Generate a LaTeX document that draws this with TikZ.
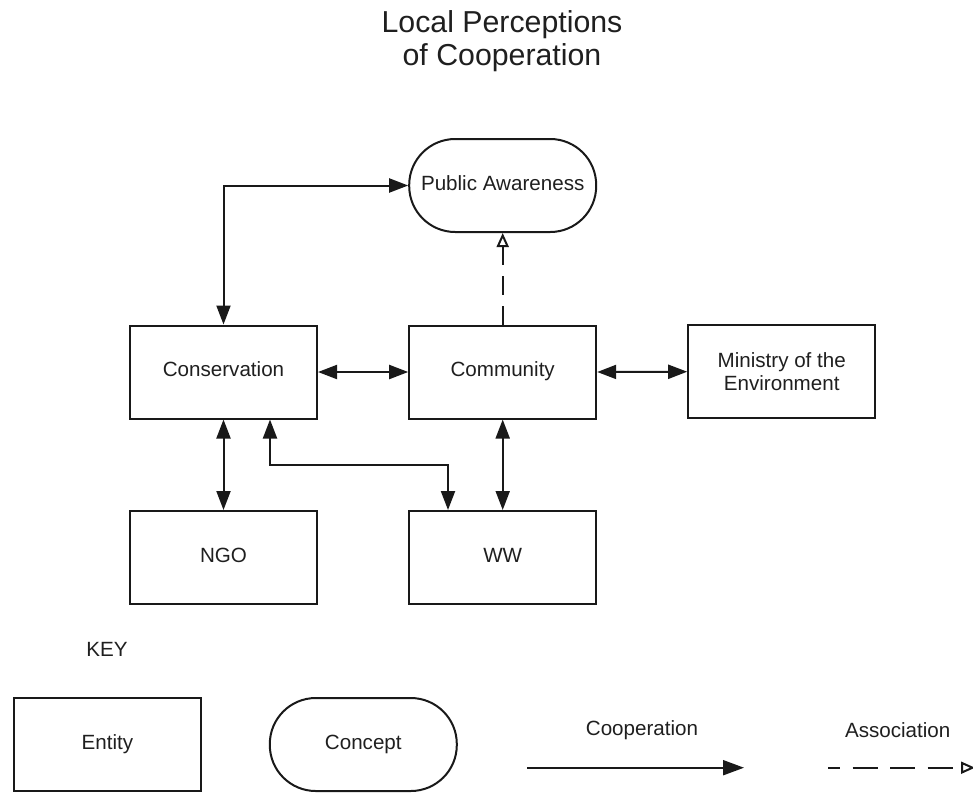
\documentclass[tikz,border=0pt]{standalone}
\usepackage{fontspec}
\setmainfont{Liberation Sans}
\usetikzlibrary{arrows.meta}
\begin{document}
\begin{tikzpicture}[x=1pt,y=-1pt,
  every node/.style={text=black!88},
  boxfont/.style={font=\fontsize{20.6}{23.5}\selectfont},
  entity/.style={draw=black!90, line width=2pt, minimum width=187pt, minimum height=93pt,
    inner sep=0pt, boxfont, align=center},
  oneline/.style={text height=15pt, text depth=5.5pt},
  concept/.style={entity, rounded corners=46pt},
  label/.style={boxfont},
  tip/.style={Triangle[length=19pt,width=14pt]},
  coop/.style={draw=black!90, line width=2pt, -{Triangle[length=21pt,width=15pt]}},
  coopboth/.style={draw=black!90, line width=2pt, {Triangle[length=19pt,width=14pt]}-{Triangle[length=19pt,width=14pt]}},
  assoc/.style={draw=black!90, line width=2pt,
    -{Triangle[open,length=14pt,width=12pt,fill=white]}}
]
\useasboundingbox (0,0) rectangle (973,793);

% title
\node[font=\fontsize{30.3}{33.5}\selectfont, align=center] (title) at (502,41)
  {Local Perceptions\\of Cooperation};

% entities and concepts
\node[concept, oneline] (pa)   at (502.7,185.5) {Public Awareness};
\node[entity, oneline]  (cons) at (223.5,372)   {Conservation};
\node[entity, oneline]  (comm) at (502.7,372)   {Community};
\node[entity]           (min)  at (781.7,371.7) {Ministry of the\\Environment};
\node[entity, oneline]  (ngo)  at (223.5,557.5) {NGO};
\node[entity, oneline]  (ww)   at (502.7,557.5) {WW};

% cooperation links
\draw[coopboth] (cons.north) |- (pa.west);
\draw[coopboth] (cons.east) -- (comm.west);
\draw[coopboth] (comm.east) -- (min.west);
\draw[coopboth] (cons.south) -- (ngo.north);
\draw[coopboth] (comm.south) -- (ww.north);
\coordinate (elbowA) at (270,465);
\coordinate (elbowB) at (448,465);
\draw[coopboth] (elbowA |- cons.south) -- (elbowA) -- (elbowB) -- (elbowB |- ww.north);

% association link
\draw[assoc, dash pattern=on 19pt off 11pt] (comm.north) -- (pa.south);

% key
\node[label] (key) at (107,649) {KEY};
\node[entity, oneline]  (kent) at (107.5,744.5) {Entity};
\node[concept, oneline] (kcon) at (363.3,744.5) {Concept};
\node[label] (kcoop)  at (642,730) {Cooperation};
\node[label] (kassoc) at (897.7,730) {Association};
\coordinate (coopA) at (527,767.7);
\coordinate (coopB) at (744,767.7);
\draw[coop] (coopA) -- (coopB);
\coordinate (assocA) at (828,767.7);
\coordinate (assocB) at (975,767.7);
\draw[assoc, dash pattern=on 25pt off 12.5pt, dash phase=13pt] (assocA) -- (assocB);
\end{tikzpicture}
\end{document}
